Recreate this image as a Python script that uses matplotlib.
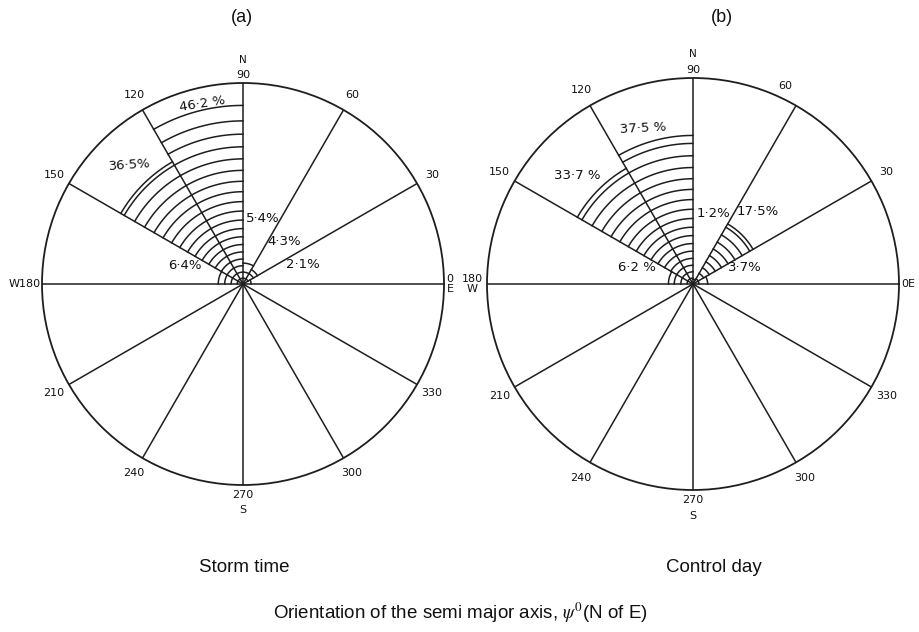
import numpy as np
import matplotlib
matplotlib.use("Agg")
import matplotlib.pyplot as plt

# ---------------- data ----------------
sector_start_deg = [0, 30, 60, 90, 120, 150]
storm_pct = [2.1, 4.3, 5.4, 46.2, 36.5, 6.4]
storm_text = ["2·1%", "4·3%", "5·4%", "46·2 %", "36·5%", "6·4%"]
control_pct = [3.7, 17.5, 1.2, 37.5, 33.7, 6.2]
control_text = ["3·7%", "17·5%", "1·2%", "37·5 %", "33·7 %", "6·2 %"]
spoke_deg = list(range(0, 360, 30))
ring_labels = ["", "30", "60", "", "120", "150", "", "210", "240", "", "300", "330"]
panel_titles = ["(a)", "(b)"]
panel_captions = ["Storm time", "Control day"]
xlabel = r"Orientation of the semi major axis, $\psi^0$(N of E)"

# ---------------- layout / style ----------------
W, H = 920, 632
RMAX = 52.0
LC = "#1e1e1e"
LW = 1.1
plt.rcParams["mathtext.fontset"] = "stix"

fig = plt.figure(figsize=(W / 100, H / 100), dpi=100)
fig.patch.set_facecolor("white")

# (centre x, centre y, radius) in pixels for the two panels
panels = [(243, 284, 201), (693, 284, 206)]

# positions (theta deg, r %) for the percentage annotations
text_pos_a = [(17.6, 16.3), (45.7, 15.2), (73, 17.6), (102.6, 47.8), (133.5, 42.5), (162, 15.8)]
text_pos_b = [(18, 13.8), (48.5, 24.5), (74, 18.5), (107.8, 41.4), (137, 40.0), (164, 14.7)]
text_rot_a = [0, 0, 0, 9, 4, 0]
text_rot_b = [0, 0, 0, 3, 0, 0]
# per-label (theta offset deg, radius factor) for the ring labels
ring_adj_a = {}
ring_adj_b = {"60": (5, 1.06)}

# hatch ring grid (decoration spacing, widening outward)
grid = []
r = 0.0
while r < RMAX:
    r = r + 1.5 + 0.05 * r
    grid.append(r)


def draw_panel(cx, cy, rad, values, texts, tpos, trot, adj, idx):
    ax = fig.add_axes([(cx - rad) / W, 1 - (cy + rad) / H, 2 * rad / W, 2 * rad / H],
                      projection="polar")
    ax.set_theta_zero_location("E")
    ax.set_theta_direction(1)
    ax.set_ylim(0, RMAX)
    ax.set_xticks([])
    ax.set_yticks([])
    ax.grid(False)
    ax.spines["polar"].set_linewidth(1.3)
    ax.spines["polar"].set_color(LC)
    ax.set_facecolor("white")

    for a in spoke_deg:
        t = np.deg2rad(a)
        ax.plot([t, t], [0, RMAX], color=LC, lw=LW, solid_capstyle="butt")

    for start, p in zip(sector_start_deg, values):
        th = np.deg2rad(np.linspace(start, start + 30, 60))
        for rr in grid:
            if rr < p - 0.9:
                ax.plot(th, np.full_like(th, rr), color=LC, lw=LW)
        ax.plot(th, np.full_like(th, p), color=LC, lw=LW)

    for txt, (td, rr), rot in zip(texts, tpos, trot):
        ax.text(np.deg2rad(td), rr, txt, ha="center", va="center", fontsize=9.5,
                rotation=rot, color="#111", family="DejaVu Sans")

    for a, lab in zip(spoke_deg, ring_labels):
        if lab:
            dth, fr = adj.get(lab, (0, 1.085))
            ax.text(np.deg2rad(a + dth), RMAX * fr, lab, ha="center", va="center",
                    fontsize=8, color="#111", clip_on=False)

    # cardinal labels
    ax.text(np.pi / 2, RMAX * 1.015, "90", ha="center", va="bottom", fontsize=8,
            color="#111", clip_on=False)
    ax.text(np.pi / 2, RMAX * 1.09, "N", ha="center", va="bottom", fontsize=7.5,
            color="#111", clip_on=False)
    ax.text(3 * np.pi / 2, RMAX * 1.025, "270", ha="center", va="top", fontsize=8,
            color="#111", clip_on=False)
    ax.text(3 * np.pi / 2, RMAX * 1.10, "S", ha="center", va="top", fontsize=8,
            color="#111", clip_on=False)
    if idx == 0:
        ax.text(0, RMAX * 1.012, "0\nE", ha="left", va="center", fontsize=8,
                color="#111", clip_on=False, linespacing=0.95)
        ax.text(np.pi, RMAX * 1.008, "W180", ha="right", va="center", fontsize=8,
                color="#111", clip_on=False)
    else:
        ax.text(0, RMAX * 1.01, "0E", ha="left", va="center", fontsize=8,
                color="#111", clip_on=False)
        ax.text(np.pi, RMAX * 1.02, "180\nW", ha="right", va="center", fontsize=8,
                color="#111", clip_on=False, linespacing=0.95, multialignment="center")
    return ax


draw_panel(*panels[0], storm_pct, storm_text, text_pos_a, text_rot_a, ring_adj_a, 0)
draw_panel(*panels[1], control_pct, control_text, text_pos_b, text_rot_b, ring_adj_b, 1)

cap_font = dict(family="Liberation Sans", color="#111")
fig.text(242 / W, 1 - 18 / H, panel_titles[0], ha="center", va="center", fontsize=13, **cap_font)
fig.text(722 / W, 1 - 18 / H, panel_titles[1], ha="center", va="center", fontsize=13, **cap_font)
fig.text(244 / W, 1 - 567 / H, panel_captions[0], ha="center", va="center", fontsize=13.5, **cap_font)
fig.text(714 / W, 1 - 567 / H, panel_captions[1], ha="center", va="center", fontsize=13.5, **cap_font)
fig.text(460 / W, 1 - 613 / H, xlabel, ha="center", va="center", fontsize=13.5, **cap_font)

fig.savefig("out.png", dpi=100, facecolor="white")
